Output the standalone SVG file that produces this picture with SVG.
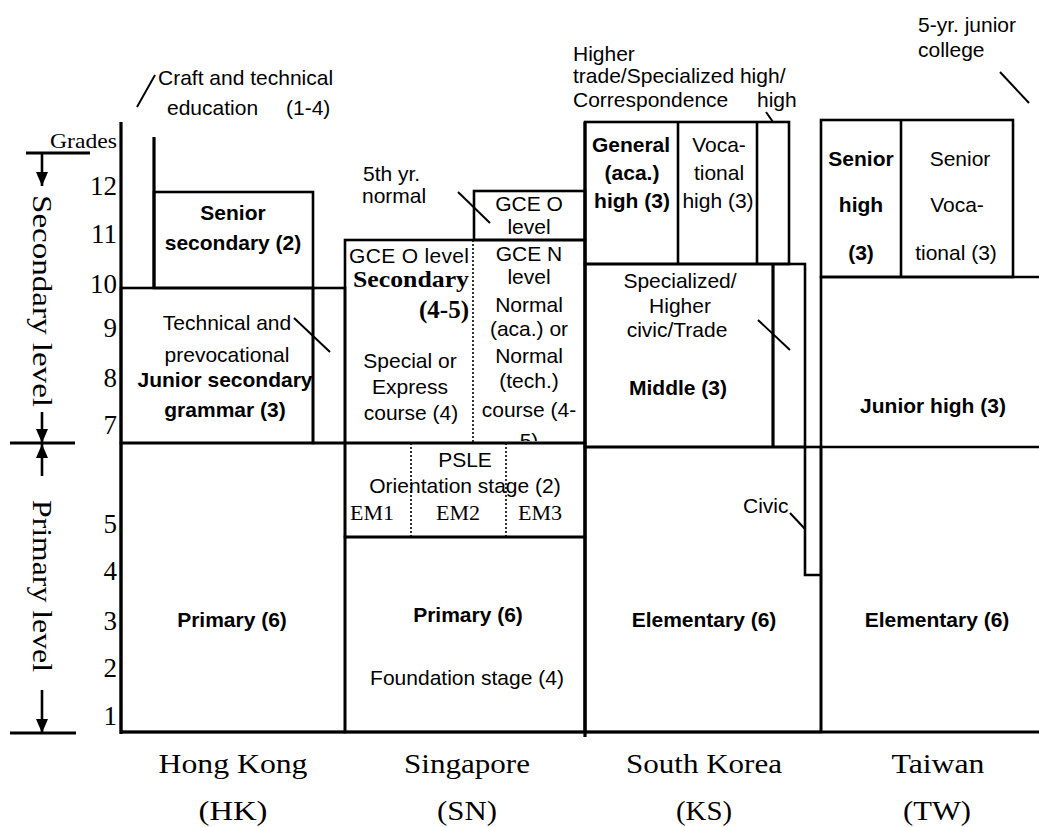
<svg xmlns="http://www.w3.org/2000/svg" width="1039" height="827" viewBox="0 0 1039 827">
<style>
.s{font-family:"Liberation Sans",Arial,sans-serif;font-size:21px;fill:#000}
.b{font-weight:bold}
.m{text-anchor:middle}
.e{text-anchor:end}
.t{font-family:"Liberation Serif","Times New Roman",serif;fill:#000}
.g{font-size:27px;text-anchor:end}
.c{font-size:28px;text-anchor:middle}
.ln{stroke:#000;stroke-width:2.6;fill:none}
.thk{stroke:#000;stroke-width:3.2;fill:none}
.dot{stroke:#000;stroke-width:1.6;stroke-dasharray:2 2;fill:none}
.ld{stroke:#000;stroke-width:2;fill:none}
</style>
<defs>
<marker id="ah" markerWidth="14" markerHeight="12" refX="14" refY="6" orient="auto" markerUnits="userSpaceOnUse"><path d="M0,0 L14,6 L0,12 z" fill="#000"/></marker>
<clipPath id="clipN"><rect x="474" y="240" width="111" height="201"/></clipPath>
</defs>
<rect width="1039" height="827" fill="#fff"/>

<g id="axis">
<text class="t" x="117" y="148" font-size="21" text-anchor="end" textLength="67" lengthAdjust="spacingAndGlyphs">Grades</text>
<line class="thk" x1="26" y1="153" x2="90" y2="153"/>
<line class="ln" x1="42" y1="153" x2="42" y2="186" marker-end="url(#ah)"/>
<text class="t" font-size="28" transform="translate(33,195) rotate(90)" textLength="212" lengthAdjust="spacingAndGlyphs">Secondary level</text>
<line class="ln" x1="42" y1="412" x2="42" y2="443" marker-end="url(#ah)"/>
<line class="thk" x1="10" y1="443" x2="75" y2="443"/>
<line class="ln" x1="42" y1="476" x2="42" y2="444" marker-end="url(#ah)"/>
<text class="t" font-size="28" transform="translate(33,500) rotate(90)" textLength="172" lengthAdjust="spacingAndGlyphs">Primary level</text>
<line class="ln" x1="42" y1="690" x2="42" y2="733" marker-end="url(#ah)"/>
<line class="thk" x1="10" y1="733" x2="76" y2="733"/>
<text class="t g" x="117" y="195">12</text>
<text class="t g" x="117" y="243">11</text>
<text class="t g" x="117" y="293">10</text>
<text class="t g" x="117" y="337">9</text>
<text class="t g" x="117" y="387">8</text>
<text class="t g" x="117" y="434">7</text>
<text class="t g" x="117" y="533">5</text>
<text class="t g" x="117" y="580">4</text>
<text class="t g" x="117" y="630">3</text>
<text class="t g" x="117" y="677">2</text>
<text class="t g" x="117" y="725">1</text>
<line class="thk" x1="121" y1="122" x2="121" y2="734"/>
<line class="thk" x1="121" y1="732" x2="1039" y2="732"/>
</g>

<g id="hk-craft">
<line class="thk" x1="154" y1="137" x2="154" y2="288"/>
<text class="s" x="158" y="85">Craft and technical</text>
<text class="s" x="167" y="115">education</text>
<text class="s" x="286" y="115">(1-4)</text>
</g>
<g id="hk-senior">
<rect class="ln" x="154" y="192" width="159" height="96"/>
<text class="s b m" x="233" y="220">Senior</text>
<text class="s b m" x="233" y="250">secondary (2)</text>
</g>
<g id="hk-junior">
<rect class="ln" x="121" y="288" width="192" height="155"/>
<text class="s m" x="227" y="330">Technical and</text>
<text class="s m" x="227" y="362">prevocational</text>
<text class="s b m" x="225" y="387" font-size="20">Junior secondary</text>
<text class="s b m" x="225" y="417" font-size="20">grammar (3)</text>
</g>
<g id="hk-technical">
<rect class="ln" x="313" y="288" width="32" height="155"/>
</g>
<g id="hk-primary">
<rect class="ln" x="121" y="443" width="224" height="289"/>
<text class="s b m" x="232" y="627">Primary (6)</text>
</g>

<g id="sn-gceo">
<rect class="ln" x="474" y="191" width="111" height="49"/>
<text class="s m" x="529" y="211" font-size="20">GCE O</text>
<text class="s m" x="529" y="234" font-size="20">level</text>
</g>
<g id="sn-5th-normal">
<text class="s" x="363" y="181">5th yr.</text>
<text class="s" x="362" y="203">normal</text>
</g>
<g id="sn-secondary">
<rect class="ln" x="345" y="240" width="240" height="203"/>
<line class="dot" x1="473" y1="240" x2="473" y2="443"/>
<text class="s" x="349" y="263" textLength="120">GCE O level</text>
<text class="t b" x="353" y="287" font-size="24" textLength="116" lengthAdjust="spacingAndGlyphs">Secondary</text>
<text class="t b e" x="469" y="318" font-size="25">(4-5)</text>
<text class="s m" x="410" y="368">Special or</text>
<text class="s m" x="410" y="394">Express</text>
<text class="s m" x="411" y="420">course (4)</text>
<g clip-path="url(#clipN)">
<text class="s m" x="529" y="261">GCE N</text>
<text class="s m" x="529" y="284">level</text>
<text class="s m" x="529" y="312">Normal</text>
<text class="s m" x="529" y="336">(aca.) or</text>
<text class="s m" x="529" y="363">Normal</text>
<text class="s m" x="529" y="388">(tech.)</text>
<text class="s m" x="529" y="417">course (4-</text>
<text class="s m" x="529" y="448">5)</text>
</g>
</g>
<g id="sn-orientation">
<rect class="ln" x="345" y="443" width="240" height="94"/>
<line class="dot" x1="411" y1="443" x2="411" y2="537"/>
<line class="dot" x1="506" y1="443" x2="506" y2="537"/>
<text class="s m" x="465" y="467">PSLE</text>
<text class="s m" x="465" y="493">Orientation stage (2)</text>
<text class="t" x="350" y="520" font-size="22">EM1</text>
<text class="t m" x="458" y="520" font-size="22">EM2</text>
<text class="t m" x="540" y="520" font-size="22">EM3</text>
</g>
<g id="sn-primary">
<rect class="ln" x="345" y="537" width="240" height="195"/>
<text class="s b m" x="468" y="622">Primary (6)</text>
<text class="s m" x="467" y="685">Foundation stage (4)</text>
</g>

<g id="ks-high">
<rect class="ln" x="585" y="122" width="204" height="142"/>
<line class="ln" x1="678" y1="122" x2="678" y2="264"/>
<line class="ln" x1="757" y1="122" x2="757" y2="264"/>
<text class="s b m" x="631" y="152">General</text>
<text class="s b m" x="632" y="180">(aca.)</text>
<text class="s b m" x="632" y="208">high (3)</text>
<text class="s m" x="719" y="152">Voca-</text>
<text class="s m" x="719" y="180">tional</text>
<text class="s m" x="718" y="208">high (3)</text>
</g>
<g id="ks-higher-trade">
<text class="s" x="573" y="61">Higher</text>
<text class="s" x="573" y="83">trade/Specialized high/</text>
<text class="s" x="573" y="107">Correspondence</text>
<text class="s" x="757" y="107">high</text>
</g>
<g id="ks-middle">
<rect class="ln" x="585" y="264" width="220" height="183"/>
<line class="thk" x1="773" y1="264" x2="773" y2="447" stroke-width="4"/>
<text class="s m" x="680" y="288">Specialized/</text>
<text class="s m" x="680" y="313">Higher</text>
<text class="s m" x="677" y="337">civic/Trade</text>
<text class="s b m" x="678" y="395">Middle (3)</text>
</g>
<g id="ks-elementary">
<rect class="ln" x="585" y="447" width="236" height="285"/>
<text class="s b m" x="704" y="627">Elementary (6)</text>
</g>
<g id="ks-civic">
<path class="ln" d="M805,447 V575 H821"/>
<text class="s" x="743" y="513">Civic</text>
</g>
<line class="thk" x1="585" y1="122" x2="585" y2="737"/>

<g id="tw-senior">
<rect class="ln" x="821" y="120" width="192" height="157"/>
<line class="ln" x1="901" y1="120" x2="901" y2="277"/>
<text class="s b m" x="861" y="166">Senior</text>
<text class="s b m" x="861" y="212">high</text>
<text class="s b m" x="861" y="260">(3)</text>
<text class="s m" x="960" y="166">Senior</text>
<text class="s m" x="957" y="212">Voca-</text>
<text class="s m" x="956" y="260">tional (3)</text>
</g>
<g id="tw-college">
<text class="s" x="918" y="32">5-yr. junior</text>
<text class="s" x="918" y="57">college</text>
</g>
<g id="tw-junior">
<path class="ln" d="M1039,277 H821 V447 H1039"/>
<text class="s b m" x="933" y="413">Junior high (3)</text>
</g>
<g id="tw-elementary">
<path class="ln" d="M821,447 V732"/>
<text class="s b m" x="937" y="627">Elementary (6)</text>
</g>

<g id="countries">
<text class="t c" x="233" y="773" textLength="149" lengthAdjust="spacingAndGlyphs">Hong Kong</text>
<text class="t c" x="233" y="820" textLength="69" lengthAdjust="spacingAndGlyphs">(HK)</text>
<text class="t c" x="467" y="773" textLength="126" lengthAdjust="spacingAndGlyphs">Singapore</text>
<text class="t c" x="467" y="820" textLength="60" lengthAdjust="spacingAndGlyphs">(SN)</text>
<text class="t c" x="704" y="773" textLength="156" lengthAdjust="spacingAndGlyphs">South Korea</text>
<text class="t c" x="704" y="820" textLength="56" lengthAdjust="spacingAndGlyphs">(KS)</text>
<text class="t c" x="938" y="773" textLength="93" lengthAdjust="spacingAndGlyphs">Taiwan</text>
<text class="t c" x="937" y="820" textLength="68" lengthAdjust="spacingAndGlyphs">(TW)</text>
</g>

<g id="connectors">
<line class="ld" x1="155" y1="75" x2="137" y2="107"/>
<line class="ld" x1="294" y1="318" x2="330" y2="352"/>
<line class="ld" x1="458" y1="192" x2="490" y2="223"/>
<line class="ld" x1="766" y1="112" x2="773" y2="122"/>
<line class="ld" x1="758" y1="320" x2="790" y2="350"/>
<line class="ld" x1="790" y1="513" x2="805" y2="529"/>
<line class="ld" x1="1000" y1="72" x2="1029" y2="103"/>
</g>
</svg>
